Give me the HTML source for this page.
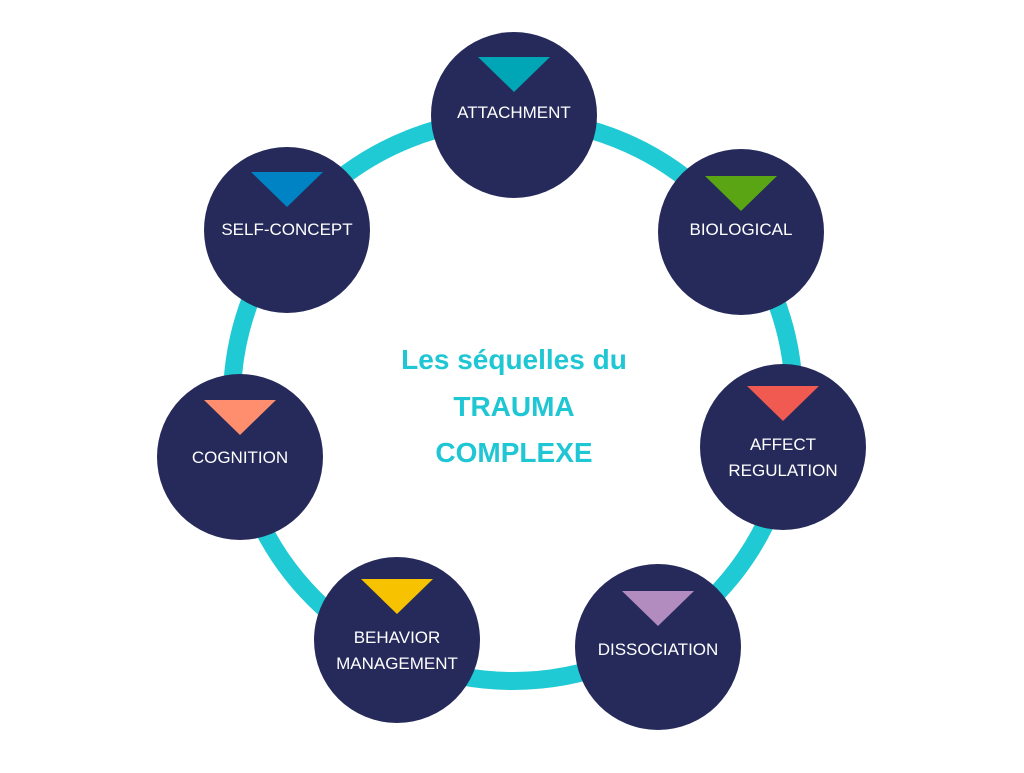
<!DOCTYPE html>
<html><head><meta charset="utf-8"><style>
body{margin:0;background:#fff;}
svg text{font-family:"Liberation Sans",sans-serif;}
</style></head><body>
<svg width="1024" height="768" viewBox="0 0 1024 768">
<circle cx="513" cy="400" r="281" fill="none" stroke="#1fcad4" stroke-width="18"/>
<g>
<circle cx="514" cy="115" r="83" fill="#262a5b"/>
<polygon points="478,57 550,57 514,92" fill="#00a6b5"/>
<text x="514" y="118" fill="#fff" font-size="17" text-anchor="middle">ATTACHMENT</text>

<circle cx="741" cy="232" r="83" fill="#262a5b"/>
<polygon points="705,176 777,176 741,211" fill="#5aa514"/>
<text x="741" y="235" fill="#fff" font-size="17" text-anchor="middle">BIOLOGICAL</text>

<circle cx="783" cy="447" r="83" fill="#262a5b"/>
<polygon points="747,386 819,386 783,421" fill="#f05a50"/>
<text x="783" y="450" fill="#fff" font-size="17" text-anchor="middle">AFFECT</text>
<text x="783" y="476" fill="#fff" font-size="17" text-anchor="middle">REGULATION</text>

<circle cx="658" cy="647" r="83" fill="#262a5b"/>
<polygon points="622,591 694,591 658,626" fill="#b28bbf"/>
<text x="658" y="655" fill="#fff" font-size="17" text-anchor="middle">DISSOCIATION</text>

<circle cx="397" cy="640" r="83" fill="#262a5b"/>
<polygon points="361,579 433,579 397,614" fill="#f7c200"/>
<text x="397" y="643" fill="#fff" font-size="17" text-anchor="middle">BEHAVIOR</text>
<text x="397" y="669" fill="#fff" font-size="17" text-anchor="middle">MANAGEMENT</text>

<circle cx="240" cy="457" r="83" fill="#262a5b"/>
<polygon points="204,400 276,400 240,435" fill="#ff8e6e"/>
<text x="240" y="463" fill="#fff" font-size="17" text-anchor="middle">COGNITION</text>

<circle cx="287" cy="230" r="83" fill="#262a5b"/>
<polygon points="251,172 323,172 287,207" fill="#0083c4"/>
<text x="287" y="235" fill="#fff" font-size="17" text-anchor="middle">SELF-CONCEPT</text>
</g>
<g fill="#1fc6d3" font-size="28" font-weight="bold" text-anchor="middle">
<text x="514" y="369">Les séquelles du</text>
<text x="514" y="416">TRAUMA</text>
<text x="514" y="462">COMPLEXE</text>
</g>
</svg>
</body></html>
